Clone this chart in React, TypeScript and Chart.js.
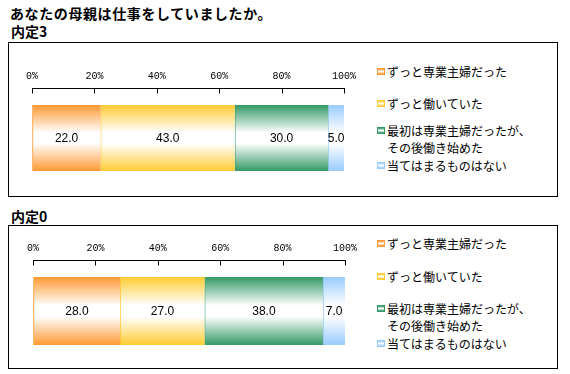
import React, { useEffect, useRef } from "react";
import { Chart, registerables } from "chart.js";

Chart.register(...registerables);

// ---- data ----
const titleText = "あなたの母親は仕事をしていましたか。";
const groupNames = ["内定3", "内定0"];
const categories = [
  "ずっと専業主婦だった",
  "ずっと働いていた",
  "最初は専業主婦だったが、\nその後働き始めた",
  "当てはまるものはない",
];
const naitei3Values = [22.0, 43.0, 30.0, 5.0];
const naitei0Values = [28.0, 27.0, 38.0, 7.0];
const tickValues = [0, 20, 40, 60, 80, 100];
const seriesColors = ["#FF9933", "#FFCC33", "#339966", "#99CCFF"];

const JP = '"Noto Sans CJK JP", "Noto Sans", sans-serif';
const TICKFONT = '"Liberation Mono", "DejaVu Sans Mono", monospace';

const tickMarkPlugin = {
  id: "tickMarks",
  afterDraw(chart: any) {
    const xs = chart.scales.x;
    const ctx = chart.ctx;
    ctx.save();
    ctx.strokeStyle = "#000";
    ctx.lineWidth = 1;
    const y0 = Math.round(xs.bottom) + 0.5;
    tickValues.forEach((v) => {
      const px = Math.round(xs.getPixelForValue(v)) + 0.5;
      ctx.beginPath();
      ctx.moveTo(px, y0);
      ctx.lineTo(px, y0 + 5);
      ctx.stroke();
    });
    ctx.restore();
  },
};

const valueLabelPlugin = {
  id: "valueLabels",
  afterDatasetsDraw(chart: any) {
    const ctx = chart.ctx;
    ctx.save();
    ctx.fillStyle = "#000";
    ctx.font = '12px "Liberation Sans", "DejaVu Sans", sans-serif';
    ctx.textAlign = "center";
    ctx.textBaseline = "middle";
    chart.data.datasets.forEach((ds: any, i: number) => {
      const meta = chart.getDatasetMeta(i);
      meta.data.forEach((el: any, j: number) => {
        const p = el.getCenterPoint();
        ctx.fillText(Number(ds.data[j]).toFixed(1), p.x, p.y + 0.5);
      });
    });
    ctx.restore();
  },
};

function makeFill(color: string, thickness: number) {
  return (c: any) => {
    const chart = c.chart;
    const ys = chart.scales && chart.scales.y;
    if (!ys || ys.top == null) return color;
    const center = ys.getPixelForValue(0);
    if (!isFinite(center)) return color;
    const g = chart.ctx.createLinearGradient(0, center - thickness / 2, 0, center + thickness / 2);
    g.addColorStop(0, color);
    g.addColorStop(0.42, "#FFFFFF");
    g.addColorStop(0.58, "#FFFFFF");
    g.addColorStop(1, color);
    return g;
  };
}

type BoxProps = {
  name: string;
  values: number[];
  canvasTop: number;
  canvasH: number;
  padTop: number;
  padLeft: number;
  padRight: number;
  padBottom: number;
  thickness: number;
};

function StackChart(p: BoxProps) {
  const ref = useRef<HTMLCanvasElement | null>(null);
  useEffect(() => {
    if (!ref.current) return;
    const chart = new Chart(ref.current, {
      type: "bar",
      data: {
        labels: [p.name],
        datasets: categories.map((cat, i) => ({
          label: cat,
          data: [p.values[i]],
          backgroundColor: makeFill(seriesColors[i], p.thickness),
          borderColor: seriesColors[i],
          borderWidth: { left: 1, right: 0, top: 0, bottom: 0 },
          borderSkipped: false,
          barThickness: p.thickness,
        })),
      },
      options: {
        indexAxis: "y",
        responsive: false,
        animation: false,
        events: [],
        layout: {
          padding: { top: p.padTop, left: p.padLeft, right: p.padRight, bottom: p.padBottom },
        },
        plugins: { legend: { display: false }, tooltip: { enabled: false } },
        scales: {
          x: {
            position: "top",
            stacked: true,
            min: 0,
            max: 100,
            afterBuildTicks: (s: any) => {
              s.ticks = tickValues.map((v) => ({ value: v }));
            },
            afterFit: (s: any) => {
              s.height = 30;
              s.paddingLeft = 0;
              s.paddingRight = 0;
            },
            grid: { drawOnChartArea: false, drawTicks: false },
            border: { display: true, color: "#000", width: 1 },
            ticks: {
              padding: 6,
              color: "#000",
              maxRotation: 0,
              autoSkip: false,
              font: { family: TICKFONT, size: 10 },
              callback: (v: any) => `${v}%`,
            },
          },
          y: { stacked: true, display: false },
        },
      },
      plugins: [tickMarkPlugin, valueLabelPlugin],
    } as any);
    return () => chart.destroy();
  }, []);
  return (
    <canvas
      ref={ref}
      width={350}
      height={p.canvasH}
      style={{ position: "absolute", left: 9, top: p.canvasTop, width: 350, height: p.canvasH, display: "block" }}
    />
  );
}

function Legend({ rows }: { rows: number[] }) {
  return (
    <>
      {categories.map((cat, i) => (
        <div
          key={i}
          style={{
            position: "absolute",
            left: 377,
            top: rows[i] - 8.5,
            font: `12px ${JP}`,
            lineHeight: "17px",
            color: "#000",
            whiteSpace: "pre-line",
          }}
        >
          <span
            style={{
              position: "absolute",
              left: 0,
              top: 5,
              width: 8,
              height: 7,
              boxSizing: "border-box",
              border: `1px solid ${seriesColors[i]}`,
              background: `linear-gradient(${seriesColors[i]}, #fff, ${seriesColors[i]})`,
            }}
          />
          <div style={{ marginLeft: 10 }}>{cat}</div>
        </div>
      ))}
    </>
  );
}

export default function App() {
  return (
    <div
      style={{
        position: "absolute",
        left: 0,
        top: 0,
        width: 570,
        height: 374,
        background: "#fff",
        overflow: "hidden",
        fontFamily: JP,
      }}
    >
      <div style={{ position: "absolute", left: 10, top: 5, font: `bold 14px ${JP}`, lineHeight: "17px", letterSpacing: 0.6 }}>
        {titleText}
      </div>
      <div style={{ position: "absolute", left: 11, top: 23, font: `bold 14px ${JP}`, lineHeight: "17px" }}>
        {groupNames[0]}
      </div>
      <div
        style={{
          position: "absolute",
          left: 8,
          top: 42,
          width: 550,
          height: 155,
          boxSizing: "border-box",
          border: "1px solid #000",
        }}
      />
      <StackChart
        name={groupNames[0]}
        values={naitei3Values}
        canvasTop={43}
        canvasH={150}
        padTop={15}
        padLeft={23}
        padRight={15}
        padBottom={5}
        thickness={66}
      />
      <Legend rows={[71, 103, 130, 165]} />

      <div style={{ position: "absolute", left: 11, top: 208, font: `bold 14px ${JP}`, lineHeight: "17px" }}>
        {groupNames[1]}
      </div>
      <div
        style={{
          position: "absolute",
          left: 8,
          top: 225,
          width: 550,
          height: 144,
          boxSizing: "border-box",
          border: "1px solid #000",
        }}
      />
      <StackChart
        name={groupNames[1]}
        values={naitei0Values}
        canvasTop={226}
        canvasH={140}
        padTop={4}
        padLeft={24}
        padRight={14}
        padBottom={4}
        thickness={68}
      />
      <Legend rows={[243, 276, 308, 343]} />
    </div>
  );
}
